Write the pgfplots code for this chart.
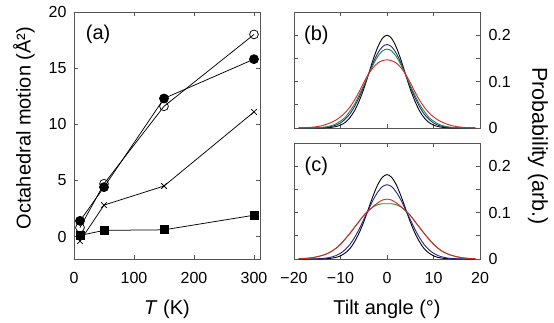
\documentclass[border=0pt]{standalone}
\usepackage{fontspec}
\setmainfont{Liberation Sans}
\usepackage{pgfplots}
\usepackage{pgfplotstable}
\pgfplotsset{compat=1.18}

\definecolor{axgray}{RGB}{85,85,85}
\definecolor{cnavy}{RGB}{35,35,140}
\definecolor{cgreen}{RGB}{30,140,60}
\definecolor{cred}{RGB}{222,35,35}

% tilt-angle distributions, panel (b)
\pgfplotstableread{
x    blk     blu     grn     red
-19  0.0000  0.0000  0.0000  0.0002
-18  0.0000  0.0000  0.0000  0.0005
-17  0.0000  0.0000  0.0001  0.0010
-16  0.0000  0.0001  0.0003  0.0018
-15  0.0001  0.0003  0.0007  0.0030
-14  0.0002  0.0007  0.0014  0.0050
-13  0.0006  0.0016  0.0027  0.0080
-12  0.0014  0.0032  0.0050  0.0120
-11  0.0030  0.0061  0.0088  0.0170
-10  0.0063  0.0110  0.0150  0.0240
-9   0.0120  0.0190  0.0230  0.0330
-8   0.0220  0.0300  0.0360  0.0450
-7   0.0370  0.0460  0.0510  0.0600
-6   0.0580  0.0660  0.0710  0.0780
-5   0.0840  0.0890  0.0920  0.0980
-4   0.1150  0.1150  0.1150  0.1160
-3   0.1470  0.1400  0.1360  0.1300
-2   0.1740  0.1610  0.1540  0.1400
-1   0.1930  0.1750  0.1660  0.1450
0    0.2000  0.1800  0.1700  0.1470
1    0.1930  0.1750  0.1660  0.1450
2    0.1740  0.1610  0.1540  0.1400
3    0.1470  0.1400  0.1360  0.1300
4    0.1150  0.1150  0.1150  0.1160
5    0.0840  0.0890  0.0920  0.0980
6    0.0580  0.0660  0.0710  0.0780
7    0.0370  0.0460  0.0510  0.0600
8    0.0220  0.0300  0.0360  0.0450
9    0.0120  0.0190  0.0230  0.0330
10   0.0063  0.0110  0.0150  0.0240
11   0.0030  0.0061  0.0088  0.0170
12   0.0014  0.0032  0.0050  0.0120
13   0.0006  0.0016  0.0027  0.0080
14   0.0002  0.0007  0.0014  0.0050
15   0.0001  0.0003  0.0007  0.0030
16   0.0000  0.0001  0.0003  0.0018
17   0.0000  0.0000  0.0001  0.0010
18   0.0000  0.0000  0.0000  0.0005
19   0.0000  0.0000  0.0000  0.0002
}\distb

% tilt-angle distributions, panel (c)
\pgfplotstableread{
x    blk     blu     grn     red
-19  0.0000  0.0000  0.0005  0.0005
-18  0.0000  0.0000  0.0010  0.0010
-17  0.0000  0.0000  0.0018  0.0018
-16  0.0000  0.0002  0.0030  0.0030
-15  0.0001  0.0005  0.0050  0.0050
-14  0.0003  0.0011  0.0075  0.0075
-13  0.0007  0.0021  0.0110  0.0110
-12  0.0016  0.0041  0.0160  0.0160
-11  0.0034  0.0073  0.0230  0.0230
-10  0.0069  0.0125  0.0320  0.0320
-9   0.0130  0.0200  0.0430  0.0430
-8   0.0220  0.0310  0.0550  0.0550
-7   0.0370  0.0460  0.0680  0.0680
-6   0.0560  0.0640  0.0810  0.0810
-5   0.0800  0.0850  0.0940  0.0940
-4   0.1080  0.1060  0.1040  0.1040
-3   0.1360  0.1270  0.1120  0.1130
-2   0.1600  0.1440  0.1170  0.1210
-1   0.1760  0.1560  0.1190  0.1270
0    0.1820  0.1600  0.1190  0.1290
1    0.1760  0.1560  0.1190  0.1270
2    0.1600  0.1440  0.1170  0.1210
3    0.1360  0.1270  0.1120  0.1130
4    0.1080  0.1060  0.1040  0.1040
5    0.0800  0.0850  0.0940  0.0940
6    0.0560  0.0640  0.0810  0.0810
7    0.0370  0.0460  0.0680  0.0680
8    0.0220  0.0310  0.0550  0.0550
9    0.0130  0.0200  0.0430  0.0430
10   0.0069  0.0125  0.0320  0.0320
11   0.0034  0.0073  0.0230  0.0230
12   0.0016  0.0041  0.0160  0.0160
13   0.0007  0.0021  0.0110  0.0110
14   0.0003  0.0011  0.0075  0.0075
15   0.0001  0.0005  0.0050  0.0050
16   0.0000  0.0002  0.0030  0.0030
17   0.0000  0.0000  0.0018  0.0018
18   0.0000  0.0000  0.0010  0.0010
19   0.0000  0.0000  0.0005  0.0005
}\distc

\pgfplotsset{
  panel/.style={
    scale only axis,
    anchor=north west,
    axis line style={axgray, line width=0.8pt},
    major tick style={axgray, line width=0.8pt},
    major tick length=4pt,
    tick align=inside,
    xtick pos=both, ytick pos=both,
    ticklabel style={font=\fontsize{16}{18}\selectfont},
    label style={font=\fontsize{20}{24}\selectfont},
    xticklabel style={yshift=-10pt},
    xlabel style={yshift=-9pt},
  },
  dist/.style={smooth, line width=0.9pt, no marks},
}

\begin{document}
\begin{tikzpicture}

% (a) octahedral motion vs temperature
\begin{axis}[panel,
    at={(74pt,-12pt)}, width=186pt, height=247pt,
    xmin=0, xmax=310, ymin=-2, ymax=20,
    xtick={0,100,200,300}, ytick={0,5,10,15,20},
    xticklabels={0,100,200,300}, yticklabels={0,5,10,15,20},
    yticklabel style={xshift=-4pt},
    xlabel={\textit{T} (K)},
    ylabel={Octahedral motion (Å²)},
    ylabel shift=7pt,
    ylabel style={at={(ticklabel cs:0.53)}},
    every axis plot/.append style={black, line width=0.75pt},
]
\addplot[mark=*, mark size=4.5pt] coordinates {(10,1.4) (50,4.4) (150,12.3) (300,15.8)};
\addplot[mark=o, mark size=4.4pt, mark options={fill=white}] coordinates {(10,0.8) (50,4.7) (150,11.6) (300,18.0)};
\addplot[mark=x, mark size=4pt] coordinates {(10,-0.4) (50,2.8) (150,4.5) (300,11.1)};
\addplot[mark=square*, mark size=4pt] coordinates {(10,0.1) (50,0.55) (150,0.6) (300,1.9)};
\node[font=\fontsize{20}{24}\selectfont] at (rel axis cs:0.13,0.91) {(a)};
\end{axis}

% (b) tilt angle distributions
\begin{axis}[panel,
    at={(294pt,-12pt)}, width=186pt, height=116pt,
    xmin=-20, xmax=20, ymin=0, ymax=0.25,
    xtick={-20,-10,0,10,20}, xticklabels={},
    ytick={0,0.05,0.1,0.15,0.2,0.25}, yticklabels={0,,0.1,,0.2,},
    yticklabel pos=right, ytick pos=both,
    yticklabel style={xshift=5pt},
]
\addplot[dist, black] table[x=x, y=blk] {\distb};
\addplot[dist, cnavy] table[x=x, y=blu] {\distb};
\addplot[dist, cgreen] table[x=x, y=grn] {\distb};
\addplot[dist, cred] table[x=x, y=red] {\distb};
\node[font=\fontsize{20}{24}\selectfont] at (rel axis cs:0.12,0.80) {(b)};
\end{axis}

% (c) tilt angle distributions
\begin{axis}[panel,
    at={(294pt,-143pt)}, width=186pt, height=116pt,
    xmin=-20, xmax=20, ymin=0, ymax=0.25,
    xtick={-20,-10,0,10,20}, xticklabels={−20,−10,0,10,20},
    ytick={0,0.05,0.1,0.15,0.2,0.25}, yticklabels={0,,0.1,,0.2,},
    yticklabel pos=right, ytick pos=both,
    yticklabel style={xshift=5pt},
    xlabel={Tilt angle (°)},
]
\addplot[dist, black] table[x=x, y=blk] {\distc};
\addplot[dist, cnavy] table[x=x, y=blu] {\distc};
\addplot[dist, cgreen] table[x=x, y=grn] {\distc};
\addplot[dist, cred] table[x=x, y=red] {\distc};
\node[font=\fontsize{20}{24}\selectfont] at (rel axis cs:0.12,0.80) {(c)};
\end{axis}

\node[rotate=-90, font=\fontsize{21.5}{24}\selectfont] at (538pt,-146pt) {Probability (arb.)};

\pgfresetboundingbox
\path[use as bounding box] (0pt,0pt) rectangle (554pt,-322pt);
\end{tikzpicture}
\end{document}
